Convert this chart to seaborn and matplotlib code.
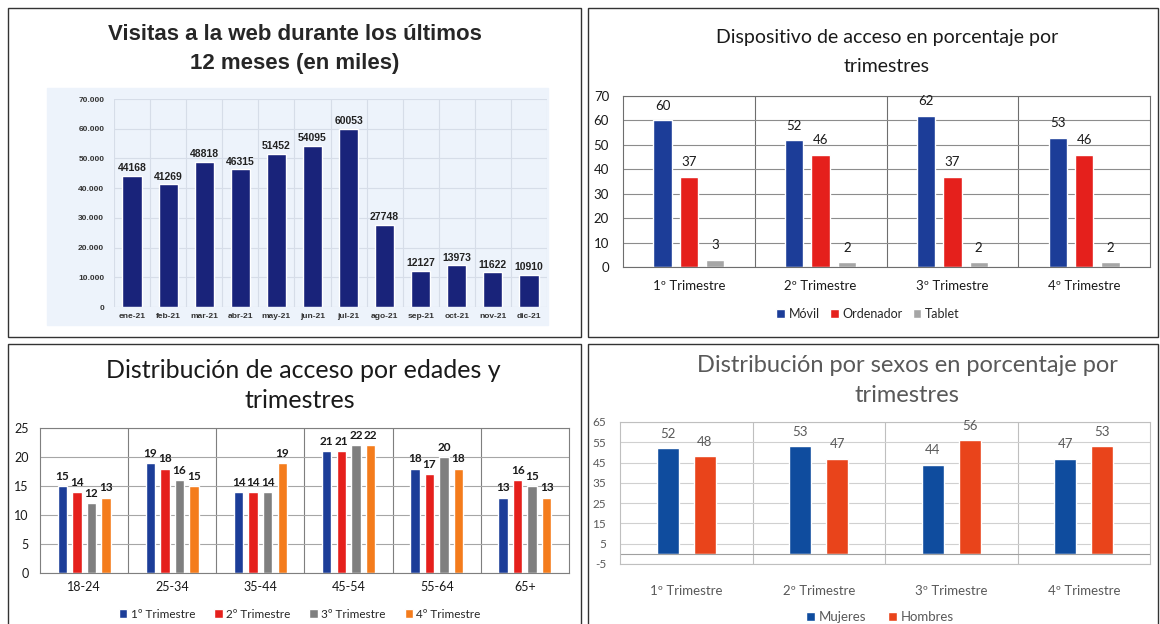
import matplotlib.pyplot as plt
import pandas as pd
import seaborn as sns
from matplotlib.patches import Rectangle
from matplotlib.ticker import FuncFormatter, MultipleLocator

# data
meses = ["ene-21", "feb-21", "mar-21", "abr-21", "may-21", "jun-21",
         "jul-21", "ago-21", "sep-21", "oct-21", "nov-21", "dic-21"]
visitas = [44168, 41269, 48818, 46315, 51452, 54095,
           60053, 27748, 12127, 13973, 11622, 10910]

trimestres = ["1º Trimestre", "2º Trimestre", "3º Trimestre", "4º Trimestre"]
movil = [60, 52, 62, 53]
ordenador = [37, 46, 37, 46]
tablet = [3, 2, 2, 2]

edades = ["18-24", "25-34", "35-44", "45-54", "55-64", "65+"]
edad_t1 = [15, 19, 14, 21, 18, 13]
edad_t2 = [14, 18, 14, 21, 17, 16]
edad_t3 = [12, 16, 14, 22, 20, 15]
edad_t4 = [13, 15, 19, 22, 18, 13]

mujeres = [52, 53, 44, 47]
hombres = [48, 47, 56, 53]

W, H = 1160, 624

sns.set_theme(style="white")
plt.rcParams["font.family"] = ["Lato", "DejaVu Sans"]
plt.rcParams["axes.unicode_minus"] = False

fig = plt.figure(figsize=(W / 100, H / 100), dpi=100)
fig.patch.set_facecolor("white")
ARIAL = ["Liberation Sans", "DejaVu Sans"]


def rect(x0, y0, x1, y1):
    # pixel box -> figure fraction
    return [x0 / W, 1 - y1 / H, (x1 - x0) / W, (y1 - y0) / H]


def fx(x):
    return x / W


def fy(y):
    return 1 - y / H


# panel frames
for x0, y0, x1, y1 in [(8, 8, 581, 337), (588, 8, 1158, 337),
                       (8, 344, 581, 640), (588, 344, 1158, 640)]:
    fig.add_artist(Rectangle((fx(x0), fy(y1)), fx(x1) - fx(x0), fy(y0) - fy(y1),
                             transform=fig.transFigure, fill=False,
                             edgecolor="#333333", linewidth=1.0))


def style_box(ax, edge="#8c8c8c"):
    for s in ax.spines.values():
        s.set_visible(True)
        s.set_color(edge)
        s.set_linewidth(0.8)
    ax.set_xlabel("")
    ax.set_ylabel("")


# ---------- 1. Visitas ----------
bg = "#edf3fb"
fig.add_artist(Rectangle((fx(47), fy(325)), fx(548) - fx(47), fy(88) - fy(325),
                         transform=fig.transFigure, color=bg, zorder=0))
fig.text(fx(295), fy(35), "Visitas a la web durante los últimos", ha="center", va="center",
         fontsize=16, fontweight="bold", family=ARIAL)
fig.text(fx(295), fy(64), "12 meses (en miles)", ha="center", va="center",
         fontsize=16, fontweight="bold", family=ARIAL)

ax1 = fig.add_axes(rect(114, 99, 547, 307))
df1 = pd.DataFrame({"mes": meses, "visitas": visitas})
sns.barplot(data=df1, x="mes", y="visitas", color="#19237a", width=0.53,
            saturation=1, ax=ax1)
ax1.set_facecolor(bg)
ax1.set_ylim(0, 70000)
ax1.yaxis.set_major_locator(MultipleLocator(10000))
ax1.yaxis.set_major_formatter(FuncFormatter(lambda v, p: "0" if v == 0 else f"{int(v):,}".replace(",", ".")))
ax1.set_xticks([i + 0.5 for i in range(-1, 12)], minor=True)
ax1.grid(True, which="major", axis="y", color="#d6dde8", linewidth=0.8)
ax1.grid(True, which="minor", axis="x", color="#d6dde8", linewidth=0.8)
ax1.set_axisbelow(True)
for s in ax1.spines.values():
    s.set_visible(False)
ax1.tick_params(axis="both", labelsize=6, colors="#333333", length=0, pad=7)
ax1.tick_params(axis="x", pad=4)
for t in ax1.get_xticklabels() + ax1.get_yticklabels():
    t.set_fontweight("bold")
    t.set_family(ARIAL)
ax1.bar_label(ax1.containers[0], fmt="%d", fontsize=7.5, fontweight="bold",
              color="#222222", padding=2, family=ARIAL)
ax1.set_xlabel("")
ax1.set_ylabel("")

# ---------- 2. Dispositivo ----------
fig.text(fx(887), fy(37), "Dispositivo de acceso en porcentaje por", ha="center", va="center",
         fontsize=14, color="#1a1a1a")
fig.text(fx(887), fy(66), "trimestres", ha="center", va="center", fontsize=14, color="#1a1a1a")

ax2 = fig.add_axes(rect(623, 96, 1150, 267))
df2 = pd.DataFrame({
    "trimestre": trimestres * 3,
    "valor": movil + ordenador + tablet,
    "dispositivo": ["Móvil"] * 4 + ["Ordenador"] * 4 + ["Tablet"] * 4,
})
sns.barplot(data=df2, x="trimestre", y="valor", hue="dispositivo",
            palette=["#1c3d98", "#e5201c", "#a6a6a6"], saturation=1,
            width=0.6, gap=0.3, ax=ax2)
ax2.set_ylim(0, 70)
ax2.yaxis.set_major_locator(MultipleLocator(10))
ax2.set_xticks([0.5, 1.5, 2.5], minor=True)
ax2.grid(True, which="major", axis="y", color="#8c8c8c", linewidth=0.8)
ax2.grid(True, which="minor", axis="x", color="#6e6e6e", linewidth=0.8)
ax2.set_axisbelow(True)
style_box(ax2, "#6e6e6e")
ax2.tick_params(axis="both", labelsize=9.5, colors="#1a1a1a", length=0)
ax2.tick_params(axis="y", pad=10)
ax2.tick_params(axis="x", pad=9)
for c in ax2.containers:
    ax2.bar_label(c, fmt="%d", fontsize=9.5, color="#1a1a1a", padding=6)
ax2.legend(loc="center", bbox_to_anchor=(fx(868), fy(314)), bbox_transform=fig.transFigure,
           ncol=3, frameon=False, fontsize=9, handlelength=0.7, handleheight=0.7,
           handletextpad=0.3, columnspacing=0.8)

# ---------- 3. Edades ----------
fig.text(fx(303), fy(370), "Distribución de acceso por edades y", ha="center", va="center",
         fontsize=18, color="#1a1a1a")
fig.text(fx(300), fy(400), "trimestres", ha="center", va="center", fontsize=18, color="#1a1a1a")

ax3 = fig.add_axes(rect(40, 428, 569, 573))
df3 = pd.DataFrame({
    "edad": edades * 4,
    "valor": edad_t1 + edad_t2 + edad_t3 + edad_t4,
    "trimestre": [t for t in trimestres for _ in edades],
})
sns.barplot(data=df3, x="edad", y="valor", hue="trimestre",
            palette=["#1c3d98", "#e5201c", "#7f7f7f", "#f47c1c"], saturation=1,
            width=0.66, gap=0.35, ax=ax3)
ax3.set_ylim(0, 25)
ax3.yaxis.set_major_locator(MultipleLocator(5))
ax3.set_xticks([i + 0.5 for i in range(5)], minor=True)
ax3.grid(True, which="major", axis="y", color="#a6a6a6", linewidth=0.8)
ax3.grid(True, which="minor", axis="x", color="#7f7f7f", linewidth=0.8)
ax3.set_axisbelow(True)
style_box(ax3, "#7f7f7f")
ax3.tick_params(axis="both", labelsize=9, colors="#1a1a1a", length=0)
ax3.tick_params(axis="y", pad=8)
ax3.tick_params(axis="x", pad=6)
for c in ax3.containers:
    ax3.bar_label(c, fmt="%d", fontsize=8.5, fontweight="bold", color="#1a1a1a", padding=3)
ax3.legend(loc="center", bbox_to_anchor=(fx(300), fy(614)), bbox_transform=fig.transFigure,
           ncol=4, frameon=False, fontsize=8.5, handlelength=0.7, handleheight=0.7,
           handletextpad=0.3, columnspacing=1.6)

# ---------- 4. Sexos ----------
fig.text(fx(907), fy(366), "Distribución por sexos en porcentaje por", ha="center", va="center",
         fontsize=17, color="#595959")
fig.text(fx(907), fy(396), "trimestres", ha="center", va="center", fontsize=17, color="#595959")

ax4 = fig.add_axes(rect(620, 422, 1150, 564))
df4 = pd.DataFrame({
    "trimestre": trimestres * 2,
    "valor": mujeres + hombres,
    "sexo": ["Mujeres"] * 4 + ["Hombres"] * 4,
})
sns.barplot(data=df4, x="trimestre", y="valor", hue="sexo",
            palette=["#0f4c9e", "#e9441b"], saturation=1,
            width=0.56, gap=0.4, ax=ax4)
ax4.set_ylim(-5, 65)
ax4.set_yticks(range(-5, 66, 10))
ax4.set_xticks([0.5, 1.5, 2.5], minor=True)
ax4.grid(True, which="major", axis="y", color="#d0d0d0", linewidth=0.8)
ax4.grid(True, which="minor", axis="x", color="#bfbfbf", linewidth=0.8)
ax4.axhline(0, color="#a0a0a0", linewidth=0.8)
ax4.set_axisbelow(True)
style_box(ax4, "#bfbfbf")
ax4.tick_params(axis="both", labelsize=8.5, colors="#595959", length=0)
ax4.tick_params(axis="x", labelsize=9.5, pad=15)
ax4.tick_params(axis="y", pad=10)
for c in ax4.containers:
    ax4.bar_label(c, fmt="%d", fontsize=9.5, color="#595959", padding=6)
ax4.legend(loc="center", bbox_to_anchor=(fx(880), fy(617)), bbox_transform=fig.transFigure,
           ncol=2, frameon=False, fontsize=9.5, handlelength=0.7, handleheight=0.7,
           handletextpad=0.3, columnspacing=1.6, labelcolor="#595959")

fig.savefig("out.png", dpi=100)
